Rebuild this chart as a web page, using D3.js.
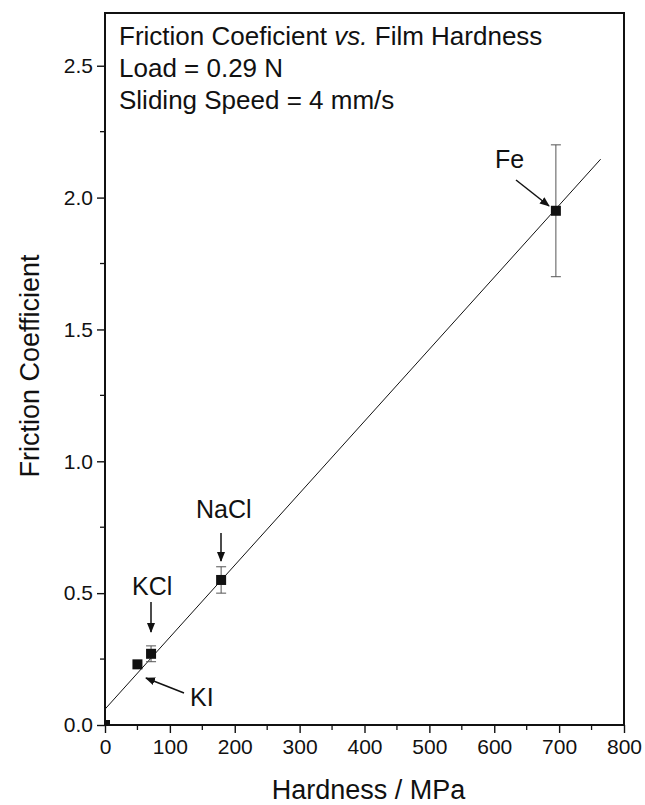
<!DOCTYPE html>
<html>
<head>
<meta charset="utf-8">
<script src="https://cdn.jsdelivr.net/npm/d3@7"></script>
<style>
  body { margin: 0; background: #fff; }
  text { font-family: "Liberation Sans", Arial, sans-serif; fill: #111; }
</style>
</head>
<body>
<svg id="chart" width="645" height="805"></svg>
<script>
// data
const samples = ["origin", "KI", "KCl", "NaCl", "Fe"]
const hardness = [0, 50, 71, 179, 695]          // MPa
const friction = [0, 0.23, 0.27, 0.55, 1.95]
const frictionErr = [0, 0, 0.03, 0.05, 0.25]
const fitIntercept = 0.06
const fitSlope = 0.00273
const fitRange = [0, 764]
const xTicks = [0, 100, 200, 300, 400, 500, 600, 700, 800]
const yTicks = [0, 0.5, 1.0, 1.5, 2.0, 2.5]
const titleLines = ["Friction Coeficient ", "Load = 0.29 N", "Sliding Speed = 4 mm/s"]

const svg = d3.select('#chart')
const pLeft = 105, pRight = 624, pTop = 13, pBottom = 725

const x = d3.scaleLinear().domain([0, 800]).range([pLeft, pRight])
const y = d3.scaleLinear().domain([0, 2.7]).range([pBottom, pTop])

const defs = svg.append('defs')
defs.append('clipPath').attr('id', 'plotClip')
  .append('rect').attr('x', pLeft).attr('y', pTop)
  .attr('width', pRight - pLeft).attr('height', pBottom - pTop)

// arrow head marker
defs.append('marker')
  .attr('id', 'arrow').attr('viewBox', '0 0 10 10')
  .attr('refX', 9).attr('refY', 5)
  .attr('markerWidth', 10).attr('markerHeight', 10)
  .attr('markerUnits', 'userSpaceOnUse')
  .attr('orient', 'auto')
  .append('path').attr('d', 'M0,1 L10,5 L0,9 Z').attr('fill', '#111')

// axes (outward ticks, left + bottom only)
const xAxis = d3.axisBottom(x).tickValues(xTicks).tickSize(8).tickPadding(6).tickFormat(d3.format('d'))
const yAxis = d3.axisLeft(y).tickValues(yTicks).tickSize(8).tickPadding(4).tickFormat(d3.format('.1f'))

const gx = svg.append('g').attr('transform', `translate(0,${pBottom})`).call(xAxis)
const gy = svg.append('g').attr('transform', `translate(${pLeft},0)`).call(yAxis)
;[gx, gy].forEach(g => {
  g.select('.domain').remove()
  g.selectAll('.tick line').attr('stroke', '#111').attr('stroke-width', 1.4)
  g.selectAll('.tick text').attr('font-size', 21).attr('fill', '#111')
    .attr('font-family', '"Liberation Sans", Arial, sans-serif')
})

// minor ticks
const xMinor = d3.range(50, 800, 100)
const yMinor = d3.range(0.25, 2.7, 0.5)
svg.append('g').selectAll('line').data(xMinor).join('line')
  .attr('x1', d => x(d)).attr('x2', d => x(d))
  .attr('y1', pBottom).attr('y2', pBottom + 5)
  .attr('stroke', '#111').attr('stroke-width', 1.3)
svg.append('g').selectAll('line').data(yMinor).join('line')
  .attr('y1', d => y(d)).attr('y2', d => y(d))
  .attr('x1', pLeft).attr('x2', pLeft - 5)
  .attr('stroke', '#111').attr('stroke-width', 1.3)

// frame
svg.append('rect').attr('x', pLeft).attr('y', pTop)
  .attr('width', pRight - pLeft).attr('height', pBottom - pTop)
  .attr('fill', 'none').attr('stroke', '#111').attr('stroke-width', 2)

const plot = svg.append('g').attr('clip-path', 'url(#plotClip)')

// linear fit
plot.append('line')
  .attr('x1', x(fitRange[0])).attr('y1', y(fitIntercept + fitSlope * fitRange[0]))
  .attr('x2', x(fitRange[1])).attr('y2', y(fitIntercept + fitSlope * fitRange[1]))
  .attr('stroke', '#111').attr('stroke-width', 1)

// error bars
const pts = samples.map((s, i) => ({ s, h: hardness[i], f: friction[i], e: frictionErr[i] }))
const eb = plot.append('g').attr('stroke', '#555').attr('stroke-width', 1)
pts.filter(d => d.e > 0).forEach(d => {
  eb.append('line').attr('x1', x(d.h)).attr('x2', x(d.h))
    .attr('y1', y(d.f - d.e)).attr('y2', y(d.f + d.e))
  ;[d.f - d.e, d.f + d.e].forEach(v => {
    eb.append('line').attr('x1', x(d.h) - 5).attr('x2', x(d.h) + 5)
      .attr('y1', y(v)).attr('y2', y(v))
  })
})

// markers
plot.selectAll('rect.pt').data(pts).join('rect').attr('class', 'pt')
  .attr('x', d => x(d.h) - 5).attr('y', d => y(d.f) - 5)
  .attr('width', 10).attr('height', 10).attr('fill', '#111')

// annotations
const notes = [
  { t: 'Fe', tx: 495, ty: 168, a: [516, 180, 549, 206] },
  { t: 'NaCl', tx: 196, ty: 518, a: [221, 533, 221, 561] },
  { t: 'KCl', tx: 132, ty: 595, a: [151, 602, 151, 632] },
  { t: 'KI', tx: 190, ty: 706, a: [184, 693, 146, 678] }
]
notes.forEach(n => {
  svg.append('text').attr('x', n.tx).attr('y', n.ty).attr('font-size', 25).text(n.t)
  svg.append('line').attr('x1', n.a[0]).attr('y1', n.a[1]).attr('x2', n.a[2]).attr('y2', n.a[3])
    .attr('stroke', '#111').attr('stroke-width', 1.5).attr('marker-end', 'url(#arrow)')
})

// title block
const t0 = svg.append('text').attr('x', 119).attr('y', 45).attr('font-size', 26)
t0.append('tspan').text(titleLines[0])
t0.append('tspan').attr('font-style', 'italic').text('vs.')
t0.append('tspan').text(' Film Hardness')
svg.append('text').attr('x', 119).attr('y', 77).attr('font-size', 26).text(titleLines[1])
svg.append('text').attr('x', 119).attr('y', 109).attr('font-size', 26).text(titleLines[2])

// axis titles
svg.append('text').attr('x', (pLeft + pRight) / 2 + 4).attr('y', 799)
  .attr('text-anchor', 'middle').attr('font-size', 27).text('Hardness / MPa')
svg.append('text').attr('transform', `translate(39,366) rotate(-90)`)
  .attr('text-anchor', 'middle').attr('font-size', 27).text('Friction Coefficient')
</script>
</body>
</html>
